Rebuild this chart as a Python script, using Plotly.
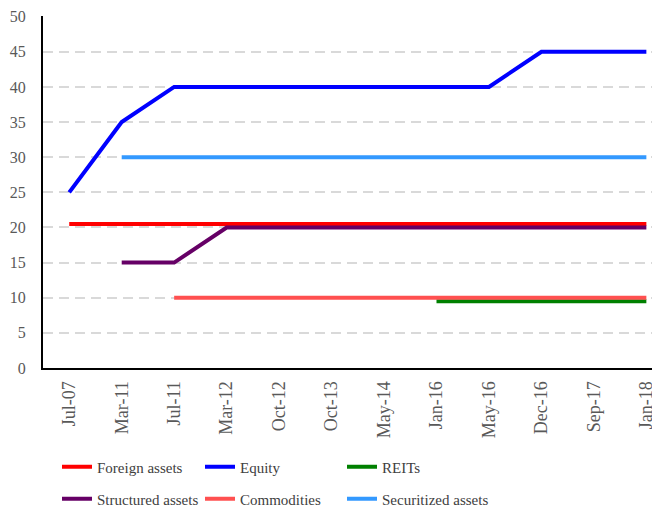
import plotly.graph_objects as go

categories = ["Jul-07", "Mar-11", "Jul-11", "Mar-12", "Oct-12", "Oct-13",
              "May-14", "Jan-16", "May-16", "Dec-16", "Sep-17", "Jan-18"]
foreign_assets = [20.5] * 12
equity = [25, 35, 40, 40, 40, 40, 40, 40, 40, 45, 45, 45]
reits = [None, None, None, None, None, None, None, 9.5, 9.5, 9.5, 9.5, 9.5]
structured_assets = [None, 15, 15, 20, 20, 20, 20, 20, 20, 20, 20, 20]
commodities = [None, None, 10, 10, 10, 10, 10, 10, 10, 10, 10, 10]
securitized_assets = [None, 30, 30, 30, 30, 30, 30, 30, 30, 30, 30, 30]

series_names = ["Foreign assets", "Equity", "REITs",
                "Structured assets", "Commodities", "Securitized assets"]
series_values = [foreign_assets, equity, reits,
                 structured_assets, commodities, securitized_assets]
series_colors = ["#FF0000", "#0000FF", "#008000", "#660066", "#FF5050", "#3399FF"]

# page body has an 8px margin; figure sized/positioned to compensate
W, H = 652, 504
font_family = "Liberation Serif, Times New Roman, serif"
legend_cols = [49, 192, 334]
legend_rows = [459, 491]

fig = go.Figure()
layout_legends = {}
for i, (name, vals, color) in enumerate(zip(series_names, series_values, series_colors)):
    key = "legend" if i == 0 else f"legend{i + 1}"
    fig.add_trace(go.Scatter(
        x=list(range(len(categories))), y=vals, name=name, mode="lines",
        line=dict(color=color, width=4), legend=key,
    ))
    layout_legends[key] = dict(
        xref="container", yref="container", xanchor="left", yanchor="middle",
        x=legend_cols[i % 3] / W, y=1 - legend_rows[i // 3] / H,
        font=dict(family=font_family, size=15, color="#404040"),
        bgcolor="rgba(0,0,0,0)", itemwidth=30,
    )

fig.update_layout(
    width=W, height=H,
    margin=dict(l=35, r=0, t=8, b=144, autoexpand=False),
    plot_bgcolor="white", paper_bgcolor="white",
    font=dict(family=font_family, size=15, color="#595959"),
    xaxis=dict(
        tickmode="array", tickvals=list(range(len(categories))), ticktext=categories,
        range=[-0.5, 11.26], tickangle=-90, showgrid=False, showline=True,
        linecolor="black", linewidth=2, ticks="", zeroline=False,
        ticklabelstandoff=4, automargin=False,
        tickfont=dict(family=font_family, size=18, color="#595959"),
    ),
    yaxis=dict(
        range=[0, 50.1], tickvals=[0, 5, 10, 15, 20, 25, 30, 35, 40, 45, 50],
        showgrid=True, gridcolor="#D9D9D9",
        griddash="10px,6px", gridwidth=2, showline=True, linecolor="black",
        linewidth=2, ticks="", zeroline=False, ticklabelstandoff=12,
        ticklabeloverflow="allow", automargin=False,
        tickfont=dict(family=font_family, size=16, color="#595959"),
    ),
    showlegend=True,
    **layout_legends,
)

fig.write_html("out.html")
